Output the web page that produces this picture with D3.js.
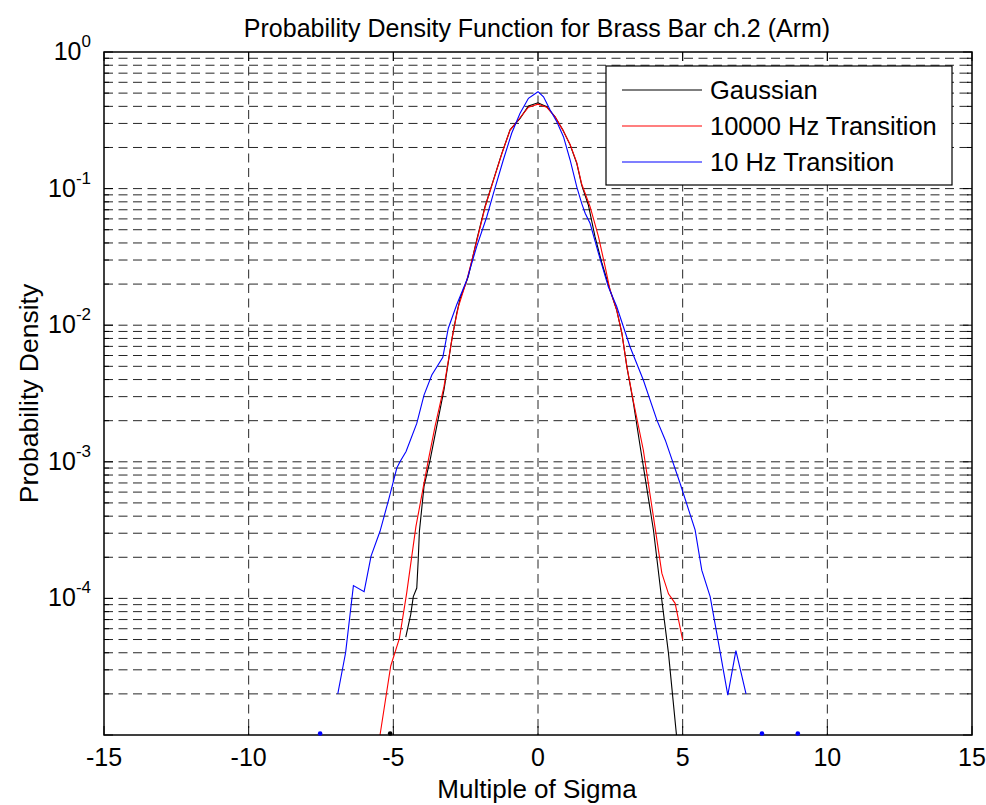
<!DOCTYPE html>
<html>
<head>
<meta charset="utf-8">
<script src="https://cdn.jsdelivr.net/npm/d3@7"></script>
<style>
  body { margin: 0; background: #fff; }
  text { font-family: "Liberation Sans", Arial, sans-serif; fill: #000; }
  .grid line { stroke: #262626; stroke-width: 1; stroke-dasharray: 9,5.5; }
  .series { fill: none; stroke-width: 1.1; }
</style>
</head>
<body>
<div id="chart"></div>
<script>
// Gaussian reference
var gaussX = [-4.57, -4.40, -4.31, -4.19, -4.14, -4.10, -3.94, -3.73, -3.48, -3.25, -2.98, -2.81, -2.69, -2.41, -2.12, -1.83, -1.54, -1.25, -0.965, -0.62, -0.33, 0, 0.30, 0.59, 0.86, 1.11, 1.34, 1.51, 1.74, 1.97, 2.21, 2.49, 2.72, 2.90, 3.07, 3.30, 3.53, 3.99, 4.28, 4.51, 4.78, 4.85];
var gaussY = [5.2e-5, 7.6e-5, 1.03e-4, 1.19e-4, 1.91e-4, 3.08e-4, 6.6e-4, 1.03e-3, 1.91e-3, 3.36e-3, 7.8e-3, 1.22e-2, 1.57e-2, 2.27e-2, 4.2e-2, 7.4e-2, 0.116, 0.181, 0.269, 0.327, 0.402, 0.425, 0.398, 0.336, 0.269, 0.209, 0.153, 0.106, 0.0759, 0.0445, 0.0284, 0.0181, 0.0129, 8.7e-3, 4.97e-3, 2.68e-3, 1.3e-3, 3.17e-4, 9.7e-5, 3.96e-5, 1.03e-5, 7e-6];

// 10000 Hz transition
var hz10kX = [-5.6, -5.46, -5.09, -4.79, -4.54, -4.22, -3.79, -3.56, -3.25, -2.93, -2.75, -2.46, -2.12, -1.83, -1.54, -1.25, -0.965, -0.62, -0.33, 0, 0.30, 0.59, 0.86, 1.11, 1.34, 1.51, 1.80, 2.09, 2.32, 2.49, 2.72, 2.90, 3.07, 3.30, 3.64, 4.11, 4.28, 4.51, 4.74, 5.0];
var hz10kY = [7e-6, 1.0e-5, 3.2e-5, 5.1e-5, 1.09e-4, 3.35e-4, 1.03e-3, 1.81e-3, 3.55e-3, 8.96e-3, 1.37e-2, 2.14e-2, 4.1e-2, 7.3e-2, 0.115, 0.18, 0.268, 0.33, 0.395, 0.415, 0.395, 0.335, 0.268, 0.21, 0.155, 0.108, 0.0737, 0.0445, 0.0268, 0.0181, 0.0129, 8.7e-3, 5.0e-3, 2.75e-3, 1.22e-3, 2.68e-4, 1.53e-4, 1.08e-4, 9.2e-5, 4.96e-5];

// 10 Hz transition
var hz10X = [-6.92, -6.65, -6.38, -6.01, -5.77, -5.46, -5.17, -4.88, -4.77, -4.56, -4.19, -3.94, -3.67, -3.29, -3.10, -2.81, -2.46, -2.12, -1.77, -1.54, -1.20, -0.91, -0.62, -0.33, 0, 0.19, 0.42, 0.65, 0.88, 1.11, 1.34, 1.51, 1.63, 1.80, 2.09, 2.43, 2.72, 3.18, 3.64, 4.11, 4.40, 4.91, 5.43, 5.66, 5.95, 6.24, 6.56, 6.84, 7.19];
var hz10Y = [2.0e-5, 4.0e-5, 1.24e-4, 1.12e-4, 2.04e-4, 3.1e-4, 5.2e-4, 9.0e-4, 1.0e-3, 1.19e-3, 1.91e-3, 3.08e-3, 4.32e-3, 5.82e-3, 9.5e-3, 1.41e-2, 2.14e-2, 3.76e-2, 6.22e-2, 9.24e-2, 0.162, 0.254, 0.356, 0.458, 0.512, 0.47, 0.376, 0.309, 0.24, 0.162, 0.103, 0.078, 0.066, 0.0557, 0.0336, 0.0191, 0.0137, 6.96e-3, 3.97e-3, 2.02e-3, 1.44e-3, 6.97e-4, 3.17e-4, 1.61e-4, 1.03e-4, 4.7e-5, 1.96e-5, 4.14e-5, 2.0e-5];

// isolated points sitting on the bottom of the axis
var gaussDotsX = [-5.11];
var hz10DotsX = [-7.53, 7.74, 8.98];
var dotY = 1e-5;

var xTicks = [-15, -10, -5, 0, 5, 10, 15];
var yDecades = [0, -1, -2, -3, -4];

var legendNames = ["Gaussian", "10000 Hz Transition", "10 Hz Transition"];
var colors = ["#000000", "#ff0000", "#0000ff"];

var width = 986, height = 805;
var m = { top: 52, right: 14, bottom: 70, left: 104 };

var x = d3.scaleLinear().domain([-15, 15]).range([m.left, width - m.right]);
var y = d3.scaleLog().domain([1e-5, 1]).range([height - m.bottom, m.top]);

var svg = d3.select("#chart").append("svg")
  .attr("width", width)
  .attr("height", height);

svg.append("clipPath").attr("id", "clip")
  .append("rect")
  .attr("x", m.left).attr("y", m.top)
  .attr("width", x(15) - x(-15)).attr("height", y(1e-5) - y(1));

// grid
var grid = svg.append("g").attr("class", "grid");
var yGrid = y.ticks().filter((d) => d > 1e-5 && d < 1);
grid.selectAll(".hg").data(yGrid).enter().append("line")
  .attr("x1", x(-15)).attr("x2", x(15))
  .attr("y1", (d) => y(d)).attr("y2", (d) => y(d));
grid.selectAll(".vg").data(xTicks.slice(1, -1)).enter().append("line")
  .attr("x1", (d) => x(d)).attr("x2", (d) => x(d))
  .attr("y1", y(1)).attr("y2", y(1e-5));

// ticks, inward on all four sides
var ticks = svg.append("g").attr("stroke", "#000").attr("stroke-width", 1);
y.ticks().forEach(function (d) {
  var major = Math.abs(Math.log10(d) - Math.round(Math.log10(d))) < 1e-9;
  var len = major ? 9 : 5;
  ticks.append("line").attr("x1", x(-15)).attr("x2", x(-15) + len).attr("y1", y(d)).attr("y2", y(d));
  ticks.append("line").attr("x1", x(15)).attr("x2", x(15) - len).attr("y1", y(d)).attr("y2", y(d));
});
xTicks.forEach(function (d) {
  ticks.append("line").attr("x1", x(d)).attr("x2", x(d)).attr("y1", y(1e-5)).attr("y2", y(1e-5) - 9);
  ticks.append("line").attr("x1", x(d)).attr("x2", x(d)).attr("y1", y(1)).attr("y2", y(1) + 9);
});

// data lines
var plot = svg.append("g").attr("clip-path", "url(#clip)");
var series = [
  d3.zip(gaussX, gaussY),
  d3.zip(hz10kX, hz10kY),
  d3.zip(hz10X, hz10Y)
];
var line = d3.line().x((d) => x(d[0])).y((d) => y(d[1]));
plot.selectAll(".series").data(series).enter().append("path")
  .attr("class", "series")
  .attr("stroke", (d, i) => colors[i])
  .attr("d", line);

// axes box
svg.append("rect")
  .attr("x", m.left).attr("y", m.top)
  .attr("width", x(15) - x(-15)).attr("height", y(1e-5) - y(1))
  .attr("fill", "none").attr("stroke", "#000").attr("stroke-width", 1.5);

// dots on the bottom edge
svg.selectAll(".gdot").data(gaussDotsX).enter().append("circle")
  .attr("cx", (d) => x(d)).attr("cy", y(dotY) - 1.5).attr("r", 2.3).attr("fill", colors[0]);
svg.selectAll(".bdot").data(hz10DotsX).enter().append("circle")
  .attr("cx", (d) => x(d)).attr("cy", y(dotY) - 1.5).attr("r", 2.3).attr("fill", colors[2]);

// x tick labels
svg.selectAll(".xl").data(xTicks).enter().append("text")
  .attr("x", (d) => x(d)).attr("y", 766)
  .attr("text-anchor", "middle")
  .style("font-size", "25px")
  .text((d) => d);

// y tick labels 10^n
yDecades.forEach(function (p) {
  var t = svg.append("text")
    .attr("x", m.left - 13).attr("y", y(Math.pow(10, p)) + 8)
    .attr("text-anchor", "end")
    .style("font-size", "25px");
  t.append("tspan").text("10");
  t.append("tspan").attr("dy", -13).style("font-size", "17px").text(p);
});

// title and axis labels
svg.append("text")
  .attr("x", 537).attr("y", 37)
  .attr("text-anchor", "middle")
  .style("font-size", "25px")
  .text("Probability Density Function for Brass Bar ch.2 (Arm)");

svg.append("text")
  .attr("x", 537).attr("y", 798)
  .attr("text-anchor", "middle")
  .style("font-size", "26px")
  .text("Multiple of Sigma");

svg.append("text")
  .attr("transform", "translate(38," + (y(1e-5) + y(1)) / 2 + ") rotate(-90)")
  .attr("text-anchor", "middle")
  .style("font-size", "26.5px")
  .text("Probability Density");

// legend
var lg = svg.append("g");
lg.append("rect")
  .attr("x", 606).attr("y", 66).attr("width", 346).attr("height", 119)
  .attr("fill", "#fff").attr("stroke", "#000").attr("stroke-width", 1.2);
var rowY = [90, 126, 162];
legendNames.forEach(function (name, i) {
  lg.append("line")
    .attr("x1", 622).attr("x2", 702).attr("y1", rowY[i]).attr("y2", rowY[i])
    .attr("stroke", colors[i]).attr("stroke-width", 1.1);
  lg.append("text")
    .attr("x", 710).attr("y", rowY[i] + 9)
    .style("font-size", "25.5px")
    .text(name);
});
</script>
</body>
</html>
